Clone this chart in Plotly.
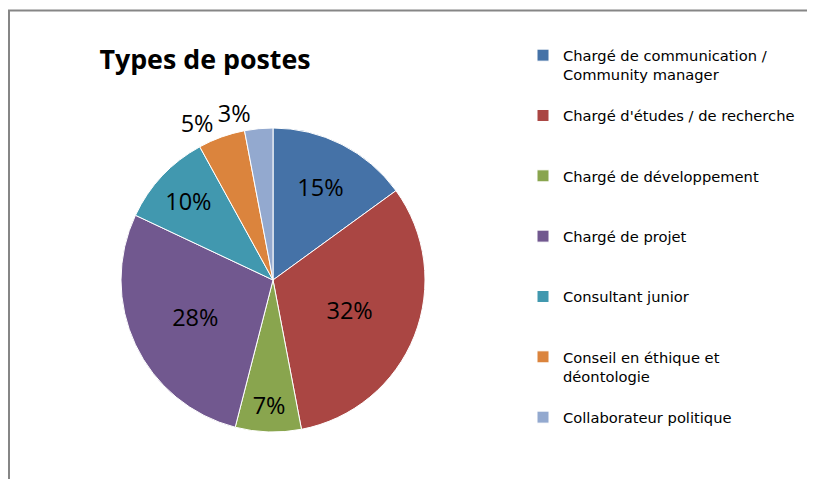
import plotly.graph_objects as go

# Data
categories = [
    "Chargé de communication /<br>Community manager",
    "Chargé d'études / de recherche",
    "Chargé de développement",
    "Chargé de projet",
    "Consultant junior",
    "Conseil en éthique et<br>déontologie",
    "Collaborateur politique",
]
values = [15, 32, 7, 28, 10, 5, 3]
colors = ["#4572A7", "#AA4643", "#89A54E", "#71588F", "#4198AF", "#DB843D", "#93A9CF"]
title_text = "Types de postes"

# page offset (body margin) compensation: figure coords = reference coords - OFF
OFF = 8
W, H = 815 - OFF, 479 - OFF
NB = "\u00a0"

# pad legend labels to 3 lines so entries are evenly spaced and marker sits on first text line
legend_labels = []
for c in categories:
    parts = c.split("<br>")
    if len(parts) == 1:
        legend_labels.append(NB + "<br>" + parts[0] + "<br>" + NB)
    else:
        legend_labels.append(NB + "<br>" + parts[0] + "<br>" + parts[1])

cx, cy, r = 273 - OFF, 280 - OFF, 152
domain = dict(
    x=[(cx - r) / W, (cx + r) / W],
    y=[(H - cy - r) / H, (H - cy + r) / H],
)
n = len(values)
lab_font = dict(family="Open Sans", size=23.5, color="black")

# main pie: all labels except the last (drawn by an overlay trace to avoid label scooting)
main_pos = ["inside"] * 5 + ["outside"] + ["none"]
main_tpl = ["%{percent:.0%}"] * (n - 1) + [""]
over_pos = ["none"] * (n - 1) + ["outside"]
over_tpl = [""] * (n - 1) + ["%{percent:.0%}"]

fig = go.Figure()
fig.add_trace(
    go.Pie(
        labels=legend_labels,
        values=values,
        sort=False,
        direction="clockwise",
        rotation=0,
        marker=dict(colors=colors, line=dict(color="white", width=1)),
        texttemplate=main_tpl,
        textposition=main_pos,
        insidetextorientation="horizontal",
        textfont=lab_font,
        insidetextfont=lab_font,
        outsidetextfont=lab_font,
        hoverinfo="label+percent",
        domain=domain,
    )
)
fig.add_trace(
    go.Pie(
        labels=legend_labels,
        values=values,
        sort=False,
        direction="clockwise",
        rotation=0,
        marker=dict(colors=["rgba(0,0,0,0)"] * n, line=dict(width=0)),
        texttemplate=over_tpl,
        textposition=over_pos,
        textfont=lab_font,
        outsidetextfont=lab_font,
        hoverinfo="skip",
        showlegend=False,
        domain=domain,
    )
)

fig.update_layout(
    width=W,
    height=H,
    margin=dict(l=0, r=0, t=0, b=0, autoexpand=False),
    paper_bgcolor="white",
    plot_bgcolor="white",
    font=dict(family="Open Sans", color="black"),
    title=dict(
        text="<b>" + title_text + "</b>",
        font=dict(family="Open Sans", size=26.8, color="black"),
        x=(205 - OFF) / W,
        xanchor="center",
        y=(H - (60 - OFF)) / H,
        yanchor="middle",
        xref="paper",
        yref="paper",
    ),
    legend=dict(
        x=(523 - OFF) / W,
        xanchor="left",
        y=(H - 12) / H,
        yanchor="top",
        font=dict(family="DejaVu Sans", size=14.7, color="black"),
        bgcolor="rgba(0,0,0,0)",
    ),
    shapes=[
        dict(type="line", xref="paper", yref="paper",
             x0=(8 - OFF) / W, x1=1, y0=(H - (10.5 - OFF)) / H, y1=(H - (10.5 - OFF)) / H,
             line=dict(color="#868686", width=2)),
        dict(type="line", xref="paper", yref="paper",
             x0=(9 - OFF) / W, x1=(9 - OFF) / W, y0=0, y1=(H - (10 - OFF)) / H,
             line=dict(color="#868686", width=2)),
    ],
)

fig.write_html("out.html")
